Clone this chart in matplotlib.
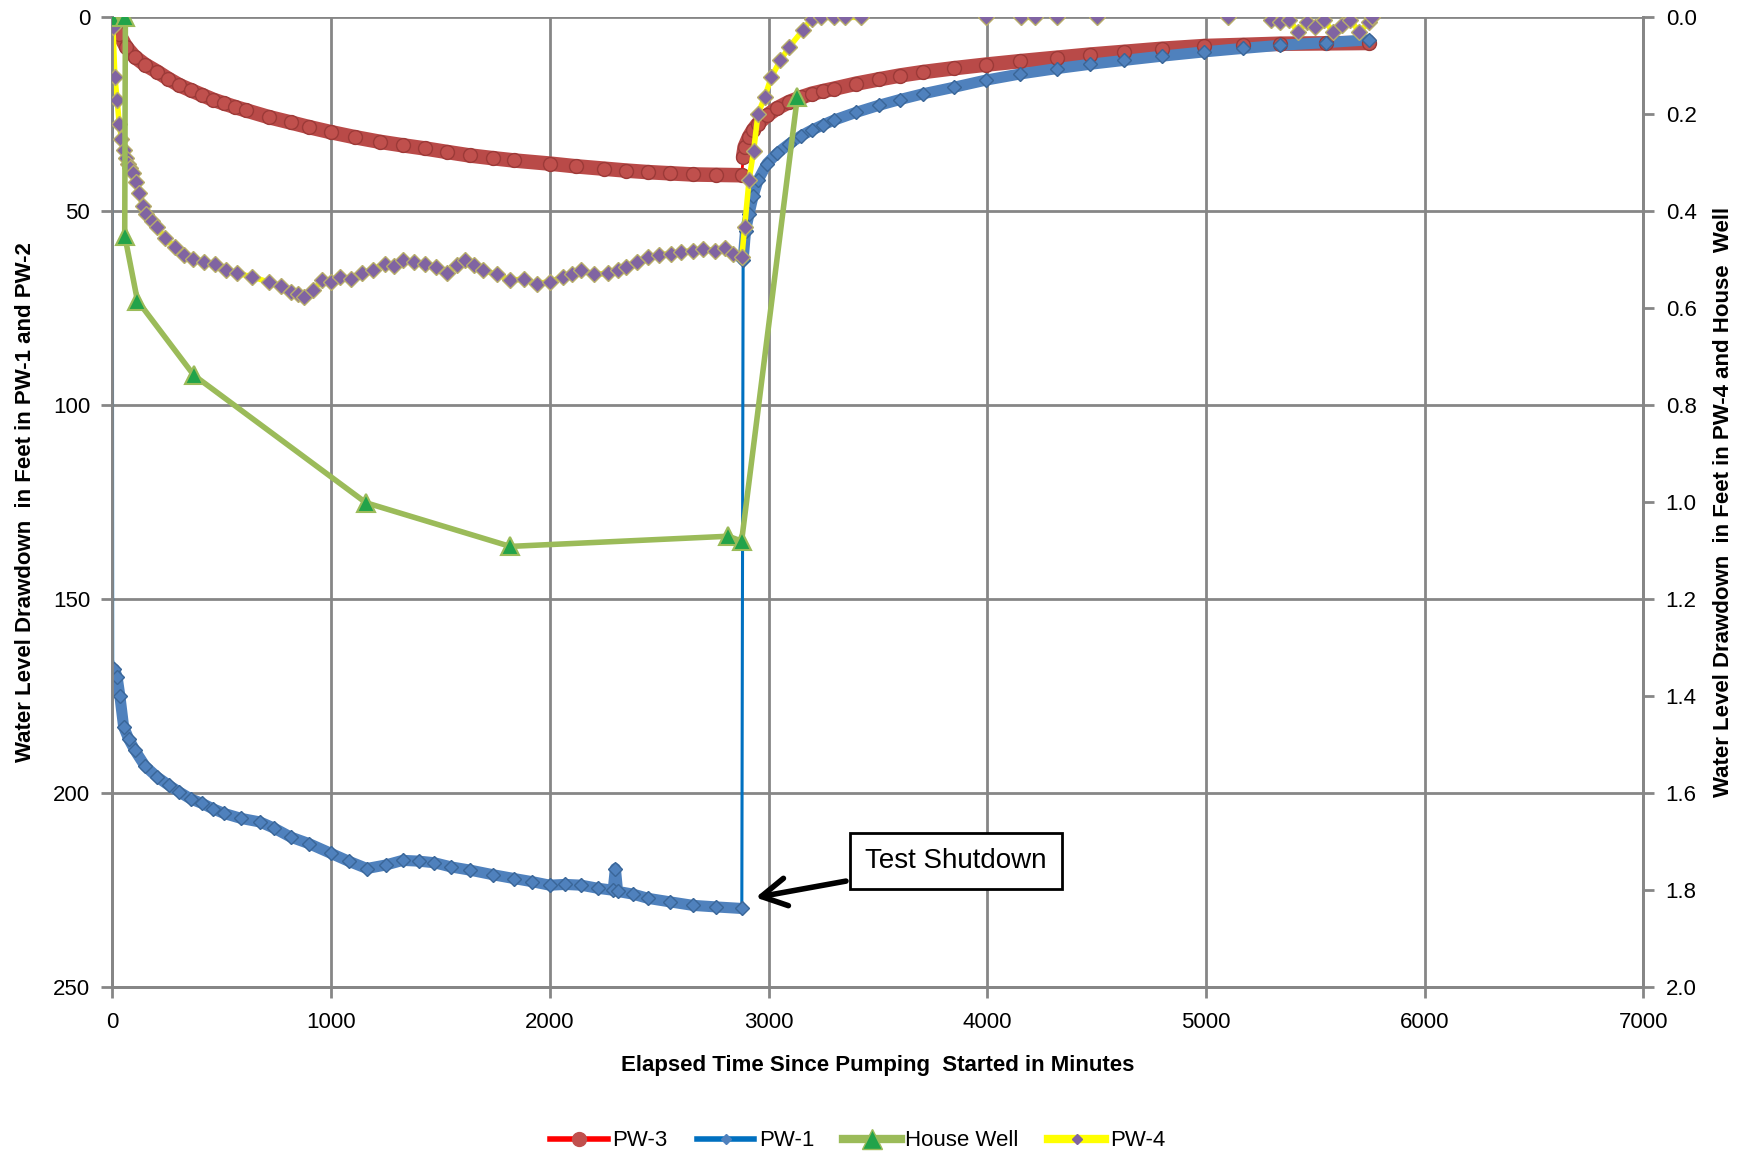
import numpy as np
import matplotlib
matplotlib.use("Agg")
from matplotlib import pyplot as plt
from matplotlib.lines import Line2D

plt.rcParams['font.family'] = ['Liberation Sans', 'DejaVu Sans']

# PW-3 (left axis, feet) - pumping and recovery
pw3_pump_t = [0, 10, 30, 63, 103, 150, 205, 255, 307, 360, 410, 460, 511, 560, 613, 715, 816, 900, 1000, 1110,
              1225, 1330, 1430, 1530, 1634, 1740, 1838, 2000, 2120, 2246, 2350, 2450, 2550, 2654, 2760, 2878]
pw3_pump_v = [0.8, 2.5, 4.2, 7.6, 10.2, 12.2, 14, 15.8, 17.5, 18.8, 20, 21.2, 22.2, 23.1, 24, 25.7, 27.1, 28.3, 29.6, 30.9,
              32.1, 33, 33.8, 34.7, 35.6, 36.3, 36.9, 37.7, 38.4, 39, 39.5, 39.9, 40.2, 40.5, 40.6, 40.7]
pw3_rec_t = [2884, 2891, 2911, 2930, 2952, 2993, 3040, 3095, 3150, 3197, 3250, 3299, 3400, 3503, 3600, 3707, 3850, 3992,
             4150, 4319, 4470, 4625, 4800, 4992, 5170, 5339, 5550, 5746]
pw3_rec_v = [36, 33.4, 30.8, 29, 27.4, 25.3, 23.4, 21.8, 20.6, 19.7, 19, 18.4, 17.1, 16, 15, 14.1, 13.1, 12.2,
             11.3, 10.4, 9.6, 8.9, 8.1, 7.4, 7.1, 6.8, 6.7, 6.6]

# PW-1 (left axis, feet)
pw1_start_t = [0]
pw1_start_v = [0]
pw1_pump_t = [2, 10, 22, 35, 52, 75, 103, 150, 205, 260, 307, 360, 410, 460, 511, 590, 675, 740, 816, 900,
              1000, 1080, 1164, 1250, 1328, 1400, 1471, 1550, 1634, 1740, 1838, 1920, 2000, 2070, 2144, 2220, 2290, 2300, 2310, 2380,
              2450, 2550, 2654, 2760, 2878]
pw1_pump_v = [165.7, 168, 170, 175, 182.9, 186, 188.9, 193, 195.8, 198, 199.7, 201.5, 202.6, 204, 205.2, 206.5, 207.4, 209, 211.3, 213,
              215.5, 217.5, 219.4, 218.5, 217.3, 217.5, 217.9, 219, 219.8, 221, 222, 222.8, 223.7, 223.5, 223.7, 224.5, 225, 219.4, 225.3, 226,
              227.1, 228, 228.9, 229.3, 229.7]
pw1_rec_t = [2884, 2895, 2911, 2930, 2952, 2993, 3040, 3095, 3150, 3197, 3250, 3299, 3400, 3503, 3600, 3707, 3850, 3992,
             4150, 4319, 4470, 4625, 4800, 4992, 5170, 5339, 5550, 5746]
pw1_rec_v = [62.6, 55, 50.6, 46, 42, 37.7, 35, 32.6, 30.5, 29.1, 27.7, 26.5, 24.5, 22.7, 21.2, 19.7, 18, 16.2,
             14.6, 13.2, 12.1, 11.1, 10, 8.9, 8, 7.2, 6.5, 5.8]

# House Well (right axis, feet)
hw_t = [0, 60, 57, 115, 373, 1160, 1819, 2816, 2877, 3132]
hw_v = [0, 0, 0.45, 0.584, 0.738, 1.001, 1.091, 1.07, 1.08, 0.164]

# PW-4 (right axis, feet)
pw4_pump_t = [0, 3, 12, 22, 32, 42, 52, 63, 73, 83, 93, 108, 124, 140, 155, 180, 205, 240, 287, 330,
              369, 420, 471, 520, 572, 640, 715, 770, 816, 850, 877, 918, 959, 1000, 1042, 1090, 1142, 1190, 1245, 1290,
              1328, 1380, 1430, 1480, 1532, 1575, 1614, 1655, 1695, 1760, 1817, 1880, 1940, 2000, 2062, 2100, 2144, 2200, 2266, 2310,
              2348, 2400, 2450, 2500, 2552, 2600, 2654, 2700, 2756, 2800, 2838, 2878]
pw4_pump_v = [0, 0.02, 0.123, 0.17, 0.219, 0.25, 0.274, 0.29, 0.302, 0.31, 0.322, 0.34, 0.363, 0.39, 0.405, 0.42, 0.432, 0.455, 0.474, 0.49,
              0.498, 0.505, 0.508, 0.52, 0.528, 0.535, 0.546, 0.555, 0.566, 0.57, 0.577, 0.563, 0.542, 0.545, 0.535, 0.54, 0.528, 0.52, 0.508, 0.512,
              0.501, 0.505, 0.508, 0.515, 0.528, 0.51, 0.501, 0.51, 0.522, 0.53, 0.542, 0.54, 0.549, 0.545, 0.535, 0.53, 0.522, 0.53, 0.528, 0.52,
              0.515, 0.505, 0.494, 0.49, 0.487, 0.484, 0.481, 0.478, 0.481, 0.475, 0.487, 0.494]
pw4_rec_t = [2891, 2911, 2932, 2952, 2983, 3013, 3054, 3095, 3156, 3197, 3238, 3300, 3350, 3421, 3500, 3950, 3992, 4100,
             4155, 4216, 4260, 4319, 4380, 4502, 4600, 4950, 5100, 5200, 5298, 5340, 5380, 5420, 5460, 5500, 5540, 5580,
             5620, 5660, 5700, 5746, 5760]
pw4_rec_v = [0.432, 0.336, 0.275, 0.199, 0.164, 0.123, 0.089, 0.061, 0.027, 0.003, 0, 0, 0, 0, -0.05, -0.05, 0, -0.05,
             0, 0, -0.05, 0, -0.05, 0, -0.05, -0.05, 0, -0.05, 0.005, 0.01, 0.005, 0.03, 0.01, 0.02, 0.005, 0.03,
             0.015, 0.005, 0.03, 0.01, 0]

x_ticks = [0, 1000, 2000, 3000, 4000, 5000, 6000, 7000]
left_ticks = [0, 50, 100, 150, 200, 250]
right_ticks = [0.0, 0.2, 0.4, 0.6, 0.8, 1.0, 1.2, 1.4, 1.6, 1.8, 2.0]

grey = '#868686'

fig = plt.figure(figsize=(17.54, 11.56), dpi=100)
ax = fig.add_axes([0.064, 0.146, 0.873, 0.839])
ax2 = ax.twinx()

# PW-3: thin red line under a dense band of markers
ax.plot(pw3_pump_t + pw3_rec_t, pw3_pump_v + pw3_rec_v, color='#FF0000', lw=2, zorder=3)
for tt, vv in [(pw3_pump_t, pw3_pump_v), (pw3_rec_t, pw3_rec_v)]:
    ax.plot(tt, vv, color='#B94A48', lw=10.5, solid_capstyle='round', zorder=4)
    ax.plot(tt, vv, ls='none', marker='o', ms=10, mfc='#C0504D', mec='#9C3A38', mew=1, zorder=5)

# PW-1
ax.plot(pw1_start_t + pw1_pump_t + pw1_rec_t, pw1_start_v + pw1_pump_v + pw1_rec_v,
        color='#0070C0', lw=2.2, zorder=3)
for tt, vv in [(pw1_pump_t[1:], pw1_pump_v[1:]), (pw1_rec_t, pw1_rec_v)]:
    ax.plot(tt, vv, color='#4F81BD', lw=8, solid_capstyle='round', zorder=4)
    ax.plot(tt, vv, ls='none', marker='D', ms=7, mfc='#4F81BD', mec='#3A6698', mew=1, zorder=5)

# PW-4 and House Well on the secondary axis
ax2.plot(pw4_pump_t + pw4_rec_t, pw4_pump_v + pw4_rec_v, color='#FFFF00', lw=4, zorder=2)
ax2.plot(pw4_pump_t + pw4_rec_t, pw4_pump_v + pw4_rec_v, ls='none', marker='D', ms=8,
         mfc='#8064A2', mec='#B8AE6A', mew=1, zorder=3)
ax2.plot(hw_t, hw_v, color='#9BBB59', lw=4, marker='^', ms=13, mfc='#22A34A', mec='#9BBB59',
         mew=1.5, zorder=4)

ax.set_xlim(0, 7000)
ax.set_ylim(250, 0)
ax2.set_ylim(2.0, 0)
ax.set_xticks(x_ticks)
ax.set_yticks(left_ticks)
ax2.set_yticks(right_ticks)
ax2.set_yticklabels([f'{v:.1f}' for v in right_ticks])

ax.grid(True, color=grey, lw=2)
ax.set_axisbelow(True)
for a in (ax, ax2):
    for s in a.spines.values():
        s.set_color(grey)
        s.set_linewidth(2)
    a.spines['top'].set_visible(False)
    a.tick_params(colors=grey, width=2, length=8, labelsize=16, labelcolor='black')
ax.tick_params(axis='x', pad=10)
ax.tick_params(axis='y', pad=8)
ax2.tick_params(axis='y', pad=8)

ax.set_xlabel('Elapsed Time Since Pumping  Started in Minutes', fontsize=16, fontweight='bold', labelpad=16)
ax.set_ylabel('Water Level Drawdown  in Feet in PW-1 and PW-2', fontsize=16, fontweight='bold', labelpad=12)
ax2.set_ylabel('Water Level Drawdown  in Feet in PW-4 and House  Well', fontsize=16, fontweight='bold', labelpad=12)

ax2.annotate('Test Shutdown', xy=(2929, 1.816), xytext=(3856, 1.74),
             xycoords='data', textcoords='data', fontsize=20, ha='center', va='center',
             bbox=dict(boxstyle='square,pad=0.55', fc='white', ec='black', lw=2),
             arrowprops=dict(arrowstyle='->,head_length=0.9,head_width=0.5', color='black', lw=4),
             zorder=10)

handles = [
    Line2D([], [], color='#FF0000', lw=4, marker='o', ms=10, mfc='#C0504D', mec='#C0504D'),
    Line2D([], [], color='#0070C0', lw=4, marker='D', ms=5, mfc='#4F81BD', mec='#4F81BD'),
    Line2D([], [], color='#9BBB59', lw=6, marker='^', ms=14, mfc='#22A34A', mec='#9BBB59'),
    Line2D([], [], color='#FFFF00', lw=6, marker='D', ms=5, mfc='#8064A2', mec='#8064A2'),
]
fig.legend(handles, ['PW-3', 'PW-1', 'House Well', 'PW-4'], loc='center', bbox_to_anchor=(0.489, 0.013),
           ncol=4, frameon=False, fontsize=16, handlelength=2.6, columnspacing=1.3, handletextpad=0.2)

fig.savefig('out.png', dpi=100)
